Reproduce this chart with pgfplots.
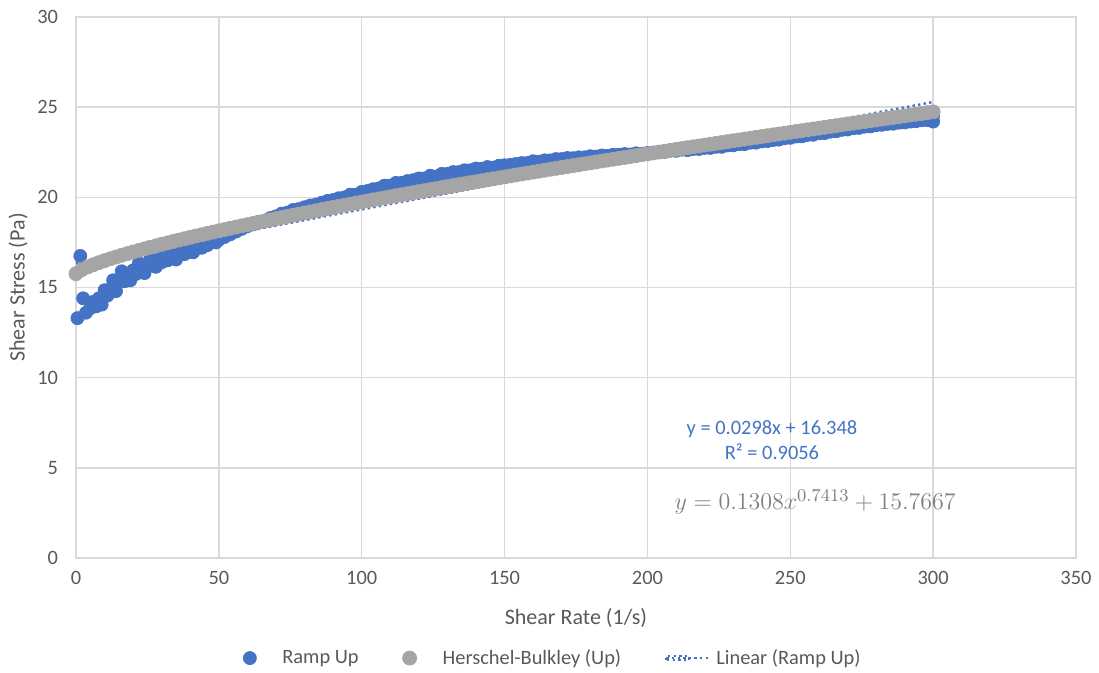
\documentclass[border=0pt]{standalone}
\usepackage{pgfplots}
\pgfplotsset{compat=1.18}
\usepackage{fontspec}
\setmainfont{Carlito}
\definecolor{blueC}{HTML}{4472C4}
\definecolor{grayC}{HTML}{A5A5A5}
\definecolor{gridC}{HTML}{D9D9D9}
\definecolor{tc}{HTML}{595959}
\definecolor{eqgray}{HTML}{7F7F7F}
\begin{document}
\begin{tikzpicture}
\useasboundingbox (-38pt,-57.5pt) rectangle (511.5pt,279pt);
\begin{axis}[
  at={(0pt,0pt)}, anchor=south west,
  scale only axis, width=500pt, height=270.5pt,
  xmin=0, xmax=350, ymin=0, ymax=30,
  xtick={0,50,...,350}, ytick={0,5,...,30},
  grid=major, major grid style={gridC, line width=0.75pt},
  axis line style={gridC, line width=0.75pt},
  major tick length=0pt,
  clip=false,
  /pgf/number format/assume math mode=true,
  xticklabel style={font=\fontsize{10.2}{12}\selectfont, text=tc, yshift=-3pt},
  yticklabel style={font=\fontsize{10.2}{12}\selectfont, text=tc, xshift=-5.5pt},
  xlabel={Shear Rate (1/s)}, ylabel={Shear Stress (Pa)},
  every axis x label/.style={at={(axis description cs:0.5,-0.111)}, anchor=center, font=\fontsize{11}{13}\selectfont, text=tc},
  every axis y label/.style={at={(axis description cs:-0.058,0.5)}, anchor=center, rotate=90, font=\fontsize{11}{13}\selectfont, text=tc},
  legend columns=3,
  legend style={at={(axis description cs:0.478,-0.185)}, anchor=center, draw=none, fill=none,
    font=\fontsize{10.2}{12}\selectfont, text=tc,
    /tikz/every odd column/.append style={column sep=11pt},
    /tikz/every even column/.append style={column sep=20pt}},
]
\addplot[only marks, mark=*, mark size=3.25pt, mark options={fill=blueC, draw=blueC}] coordinates {
(0.5,13.30) (1.5,16.75) (2.5,14.40) (3.5,13.60) (5,13.85) (6,14.20) (7,13.95) (8,14.40) (9,14.05)
(10,14.85) (11,14.55) (12,14.90) (13,15.40) (14,14.80) (15,15.30) (16,15.90) (17,15.35) (18,15.65) (19,15.40)
(20,15.95) (21,15.75) (22,16.35) (23,15.90) (24,15.80) (25,16.25) (26,16.60) (27,16.20) (28,16.15) (29,16.55)
(30,16.40) (31,16.80) (32,16.50) (33,16.75) (34,16.95) (35,16.55) (36,16.85) (37,16.95) (38,16.85) (39,17.05)
(40,17.10) (41,16.95) (42,17.20) (43,17.30) (44,17.20) (45,17.40) (46,17.35) (47,17.50) (48,17.55) (49,17.50)
(50,17.65) (52,17.80) (54,17.95) (56,18.10) (58,18.25) (60,18.40) (62,18.50) (64,18.65) (66,18.70) (68,18.85)
(70,18.95) (72,19.10) (74,19.15) (76,19.30) (78,19.35) (80,19.45) (82,19.55) (84,19.60) (86,19.70) (88,19.80)
(90,19.85) (92,19.95) (94,20.00) (96,20.15) (98,20.15) (100,20.30) (102,20.35) (104,20.45) (106,20.50) (108,20.65)
(110,20.65) (112,20.80) (114,20.80) (116,20.90) (118,20.95) (120,21.05) (122,21.05) (124,21.20) (126,21.15) (128,21.30)
(130,21.30) (132,21.40) (134,21.40) (136,21.50) (138,21.50) (140,21.60) (142,21.58) (144,21.68) (146,21.65) (148,21.75)
(150,21.78) (152,21.80) (154,21.85) (156,21.90) (158,21.90) (160,22.00) (162,21.98) (164,22.05) (166,22.05) (168,22.12)
(170,22.12) (172,22.18) (174,22.17) (176,22.22) (178,22.22) (180,22.28) (182,22.26) (184,22.32) (186,22.30) (188,22.36)
(190,22.36) (192,22.40) (194,22.38) (196,22.44) (198,22.42) (200,22.46) (202,22.48) (204,22.52) (206,22.52) (208,22.58)
(210,22.58) (212,22.64) (214,22.62) (216,22.68) (218,22.68) (220,22.74) (222,22.74) (224,22.80) (226,22.80) (228,22.88)
(230,22.88) (232,22.95) (234,22.95) (236,23.03) (238,23.03) (240,23.10) (242,23.12) (244,23.18) (246,23.20) (248,23.28)
(250,23.30) (252,23.37) (254,23.38) (256,23.46) (258,23.47) (260,23.55) (262,23.56) (264,23.64) (266,23.66) (268,23.74)
(270,23.76) (272,23.83) (274,23.85) (276,23.92) (278,23.93) (280,24.00) (282,24.02) (284,24.07) (286,24.08) (288,24.14)
(290,24.15) (292,24.20) (294,24.22) (296,24.27) (298,24.28) (300,24.20) (300,24.55)
};
\addlegendentry{Ramp Up}
\addplot[only marks, mark=*, mark size=3.5pt, mark options={fill=grayC, draw=grayC}] coordinates {
(0,15.767) (2,15.985) (4,16.132) (6,16.260) (8,16.378) (10,16.488) (12,16.592) (14,16.690) (16,16.788) (18,16.880)
(20,16.972) (22,17.059) (24,17.146) (26,17.230) (28,17.313) (30,17.394) (32,17.474) (34,17.552) (36,17.630) (38,17.706)
(40,17.782) (42,17.856) (44,17.929) (46,18.001) (48,18.073) (50,18.144) (52,18.214) (54,18.283) (56,18.352) (58,18.420)
(60,18.488) (62,18.555) (64,18.621) (66,18.687) (68,18.752) (70,18.817) (72,18.882) (74,18.946) (76,19.009) (78,19.072)
(80,19.135) (82,19.197) (84,19.259) (86,19.320) (88,19.381) (90,19.442) (92,19.502) (94,19.562) (96,19.622) (98,19.682)
(100,19.741) (102,19.800) (104,19.858) (106,19.916) (108,19.974) (110,20.032) (112,20.089) (114,20.146) (116,20.203) (118,20.260)
(120,20.316) (122,20.372) (124,20.428) (126,20.484) (128,20.539) (130,20.594) (132,20.649) (134,20.704) (136,20.758) (138,20.812)
(140,20.866) (142,20.920) (144,20.974) (146,21.028) (148,21.081) (150,21.134) (152,21.187) (154,21.240) (156,21.293) (158,21.345)
(160,21.397) (162,21.449) (164,21.501) (166,21.553) (168,21.605) (170,21.656) (172,21.707) (174,21.758) (176,21.809) (178,21.860)
(180,21.911) (182,21.962) (184,22.012) (186,22.062) (188,22.112) (190,22.162) (192,22.212) (194,22.262) (196,22.311) (198,22.361)
(200,22.410) (202,22.459) (204,22.508) (206,22.557) (208,22.606) (210,22.655) (212,22.703) (214,22.752) (216,22.800) (218,22.848)
(220,22.896) (222,22.944) (224,22.992) (226,23.040) (228,23.088) (230,23.136) (232,23.183) (234,23.230) (236,23.277) (238,23.324)
(240,23.371) (242,23.419) (244,23.466) (246,23.513) (248,23.559) (250,23.605) (252,23.651) (254,23.698) (256,23.744) (258,23.791)
(260,23.837) (262,23.883) (264,23.928) (266,23.974) (268,24.020) (270,24.066) (272,24.111) (274,24.157) (276,24.202) (278,24.247)
(280,24.292) (282,24.337) (284,24.382) (286,24.427) (288,24.472) (290,24.517) (292,24.562) (294,24.607) (296,24.651) (298,24.696)
(300,24.740)
};
\addlegendentry{Herschel-Bulkley (Up)}
\addplot[blueC, line width=1.2pt, dash pattern=on 1.2pt off 1.6pt,
  legend image code/.code={\path[use as bounding box] (0cm,-1pt) rectangle (0.4cm,1pt);
    \draw[blueC, line width=1.2pt, dash pattern=on 1.2pt off 1.6pt] (0cm,0cm) -- (0.75cm,0cm);}]
  coordinates {(0,16.348) (300,25.288)};
\addlegendentry{Linear (Ramp Up)}
\node[align=center, text=blueC, font=\fontsize{10.2}{12.6}\selectfont] at (axis cs:243.6,6.55) {y = 0.0298x + 16.348\\R² = 0.9056};
\node[text=eqgray, font=\fontsize{12.5}{15}\selectfont] at (axis cs:258.7,3.1) {$y = 0.1308x^{0.7413} + 15.7667$};
\end{axis}
\end{tikzpicture}
\end{document}
